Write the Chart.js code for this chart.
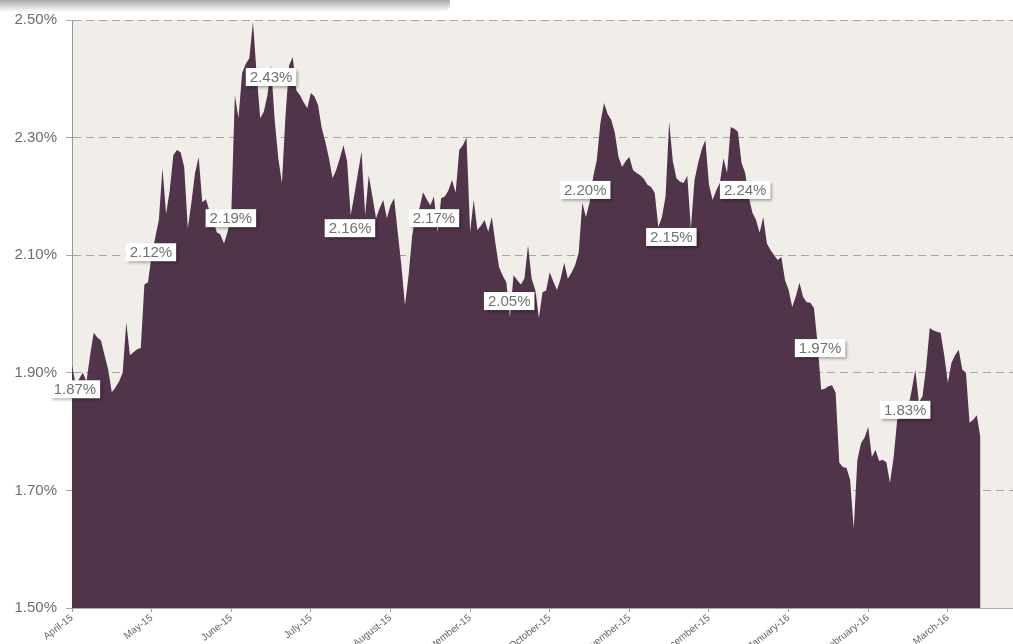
<!DOCTYPE html>
<html>
<head>
<meta charset="utf-8">
<script src="https://cdn.jsdelivr.net/npm/chart.js@4.4.1/dist/chart.umd.min.js"></script>
<style>
  html, body { margin: 0; padding: 0; background: #fff; }
  #wrap { position: relative; width: 1013px; height: 644px; }
  #topShade { position: absolute; left: 0; top: 0; width: 450px; height: 12px;
    background: linear-gradient(#a9a9a9, rgba(255,255,255,0)); border-radius: 0 0 8px 0; }
</style>
</head>
<body>
<div id="wrap">
  <canvas id="yieldChart" width="1013" height="644"></canvas>
  <div id="topShade"></div>
</div>
<script>
// month axis
const monthLabels = ['April-15', 'May-15', 'June-15', 'July-15', 'August-15', 'September-15',
  'October-15', 'November-15', 'December-15', 'January-16', 'February-16', 'March-16'];
const monthStartDay = [0, 22, 44, 66, 88, 110, 132, 154, 176, 198, 220, 242];

// daily yield (%), one value per trading day
const yields = [
  1.913, 1.88, 1.89, 1.90, 1.885, 1.93, 1.968, 1.96, 1.955, 1.93,
  1.905, 1.867, 1.875, 1.885, 1.90, 1.986, 1.93, 1.935, 1.94, 1.942,
  2.05, 2.054, 2.10, 2.13, 2.16, 2.248, 2.17, 2.21, 2.27, 2.279,
  2.275, 2.25, 2.146, 2.19, 2.24, 2.267, 2.19, 2.195, 2.175, 2.16,
  2.139, 2.135, 2.12, 2.14, 2.168, 2.372, 2.333, 2.41, 2.425, 2.435,
  2.497, 2.41, 2.333, 2.344, 2.372, 2.423, 2.33, 2.265, 2.223, 2.338,
  2.423, 2.437, 2.38, 2.372, 2.36, 2.35, 2.376, 2.37, 2.355, 2.316,
  2.293, 2.265, 2.231, 2.245, 2.265, 2.287, 2.26, 2.168, 2.202, 2.24,
  2.276, 2.168, 2.236, 2.20, 2.163, 2.18, 2.194, 2.163, 2.185, 2.197,
  2.139, 2.083, 2.015, 2.066, 2.134, 2.168, 2.18, 2.207, 2.195, 2.185,
  2.20, 2.139, 2.197, 2.20, 2.21, 2.228, 2.206, 2.279, 2.287, 2.30,
  2.14, 2.194, 2.143, 2.15, 2.16, 2.14, 2.165, 2.12, 2.08, 2.065,
  2.054, 1.995, 2.066, 2.058, 2.05, 2.06, 2.117, 2.06, 2.041, 1.993,
  2.037, 2.04, 2.071, 2.055, 2.041, 2.06, 2.087, 2.06, 2.07, 2.083,
  2.104, 2.189, 2.165, 2.189, 2.233, 2.262, 2.325, 2.359, 2.34, 2.33,
  2.308, 2.267, 2.25, 2.26, 2.267, 2.245, 2.24, 2.236, 2.23, 2.22,
  2.216, 2.206, 2.148, 2.165, 2.20, 2.327, 2.26, 2.231, 2.225, 2.223,
  2.235, 2.146, 2.228, 2.257, 2.28, 2.296, 2.22, 2.194, 2.21, 2.223,
  2.265, 2.24, 2.318, 2.315, 2.31, 2.257, 2.24, 2.199, 2.172, 2.16,
  2.138, 2.165, 2.12, 2.109, 2.10, 2.092, 2.097, 2.058, 2.041, 2.012,
  2.03, 2.053, 2.029, 2.02, 2.019, 2.01, 1.95, 1.871, 1.873, 1.877,
  1.879, 1.866, 1.747, 1.74, 1.738, 1.718, 1.635, 1.752, 1.78, 1.79,
  1.808, 1.757, 1.769, 1.75, 1.752, 1.748, 1.713, 1.755, 1.82, 1.825,
  1.83, 1.84, 1.87, 1.905, 1.85, 1.86, 1.91, 1.976, 1.972, 1.97,
  1.968, 1.93, 1.883, 1.917, 1.93, 1.939, 1.905, 1.90, 1.815, 1.82,
  1.828, 1.79
];

// monthly average callouts (text, trading day, level)
const calloutText = ['1.87%', '2.12%', '2.19%', '2.43%', '2.16%', '2.17%',
  '2.05%', '2.20%', '2.15%', '2.24%', '1.97%', '1.83%'];
const calloutDay = [0.8, 21.8, 43.9, 55.0, 76.8, 100, 120.8, 141.8, 165.6, 186, 206.7, 230.2];
const calloutLevel = [1.872, 2.105, 2.163, 2.403, 2.146, 2.163, 2.022, 2.211, 2.131, 2.211, 1.942, 1.837];

const plotBg = {
  id: 'plotBg',
  beforeDraw(chart) {
    const a = chart.chartArea, c = chart.ctx;
    c.save();
    c.fillStyle = '#f1ede8';
    c.fillRect(a.left, a.top, a.right - a.left, a.bottom - a.top);
    c.restore();
  }
};

const fillShadow = {
  id: 'fillShadow',
  beforeDatasetDraw(chart) {
    const c = chart.ctx;
    c.save();
    c.shadowColor = 'rgba(0,0,0,0.4)';
    c.shadowOffsetX = 3;
    c.shadowOffsetY = 1;
    c.shadowBlur = 5;
  },
  afterDatasetDraw(chart) {
    chart.ctx.restore();
  }
};

const callouts = {
  id: 'callouts',
  afterDatasetsDraw(chart) {
    const c = chart.ctx;
    const xs = chart.scales.x, ys = chart.scales.y;
    c.save();
    c.font = '15px "Liberation Sans", Arial, sans-serif';
    c.textAlign = 'center';
    c.textBaseline = 'middle';
    calloutText.forEach(function(t, i) {
      const x = xs.getPixelForValue(calloutDay[i]);
      const y = ys.getPixelForValue(calloutLevel[i]);
      const w = c.measureText(t).width + 8, h = 18;
      c.save();
      c.shadowColor = 'rgba(0,0,0,0.4)';
      c.shadowOffsetX = 2;
      c.shadowOffsetY = 2;
      c.shadowBlur = 3;
      c.fillStyle = '#ffffff';
      c.fillRect(x - w / 2, y - h / 2, w, h);
      c.restore();
      c.fillStyle = '#707070';
      c.fillText(t, x, y + 1);
    });
    c.restore();
  }
};

new Chart(document.getElementById('yieldChart'), {
  type: 'line',
  data: {
    datasets: [{
      data: yields.map(function(v, i) { return { x: i, y: v }; }),
      fill: 'start',
      backgroundColor: '#4f344a',
      borderColor: '#4f344a',
      borderWidth: 0,
      pointRadius: 0,
      tension: 0
    }]
  },
  options: {
    responsive: false,
    animation: false,
    layout: { padding: { top: 20, right: 0, left: 0, bottom: 0 } },
    plugins: { legend: { display: false }, tooltip: { enabled: false } },
    scales: {
      x: {
        type: 'linear',
        min: 0,
        max: 260,
        afterBuildTicks: function(scale) {
          scale.ticks = monthStartDay.map(function(d) { return { value: d }; });
        },
        afterFit: function(scale) { scale.height = 36; },
        grid: { drawOnChartArea: false, drawTicks: true, tickLength: 4, color: '#999' },
        border: { display: true, color: '#aaa', width: 1 },
        ticks: {
          autoSkip: false,
          minRotation: 38,
          maxRotation: 38,
          padding: 0,
          color: '#666',
          font: { family: '"Liberation Sans", Arial, sans-serif', size: 10 },
          callback: function(v) {
            const k = monthStartDay.indexOf(v);
            return k >= 0 ? monthLabels[k] : '';
          }
        }
      },
      y: {
        min: 1.5,
        max: 2.5,
        afterFit: function(scale) { scale.width = 72; },
        grid: { color: '#aaa59f', lineWidth: 1, tickLength: 6, tickColor: '#aaa59f' },
        border: { display: true, color: '#999', width: 1, dash: [8, 5] },
        ticks: {
          stepSize: 0.2,
          padding: 9,
          color: '#6e6e6e',
          font: { family: '"Liberation Sans", Arial, sans-serif', size: 15 },
          callback: function(v) { return v.toFixed(2) + '%'; }
        }
      }
    }
  },
  plugins: [plotBg, fillShadow, callouts]
});
</script>
</body>
</html>
